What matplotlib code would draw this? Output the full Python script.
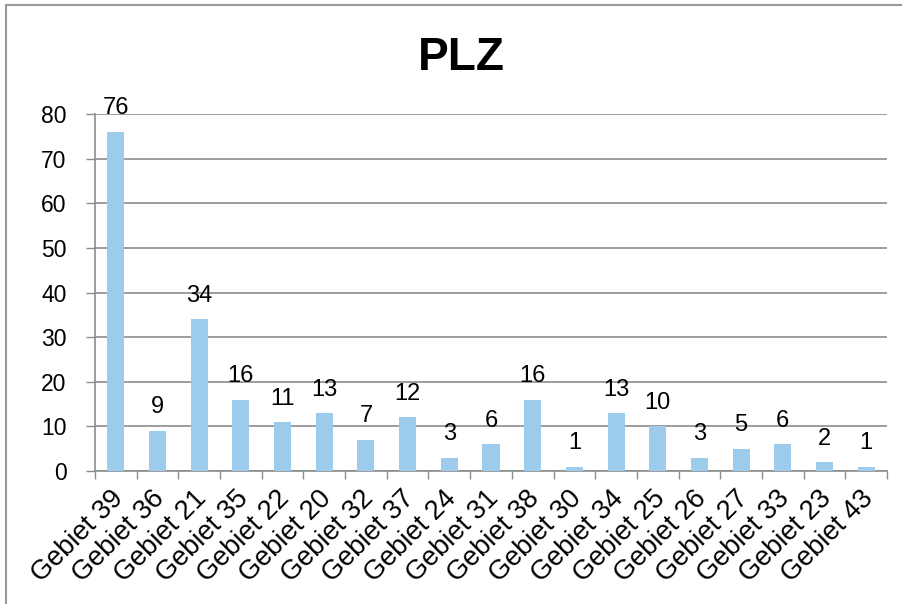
import matplotlib
matplotlib.use("Agg")
import matplotlib.pyplot as plt
from matplotlib.patches import Rectangle
from matplotlib.transforms import ScaledTranslation

categories = ["Gebiet 39", "Gebiet 36", "Gebiet 21", "Gebiet 35", "Gebiet 22",
              "Gebiet 20", "Gebiet 32", "Gebiet 37", "Gebiet 24", "Gebiet 31",
              "Gebiet 38", "Gebiet 30", "Gebiet 34", "Gebiet 25", "Gebiet 26",
              "Gebiet 27", "Gebiet 33", "Gebiet 23", "Gebiet 43"]
values = [76, 9, 34, 16, 11, 13, 7, 12, 3, 6, 16, 1, 13, 10, 3, 5, 6, 2, 1]
yticks = [0, 10, 20, 30, 40, 50, 60, 70, 80]
title = "PLZ"

plt.rcParams['font.family'] = ['Liberation Sans', 'DejaVu Sans']

W, H = 903, 604
fig = plt.figure(figsize=(W / 100, H / 100), dpi=100)
ax = fig.add_axes([95 / W, 1 - 471 / H, (887 - 95) / W, (471 - 114) / H])

grid_c = '#8c8c8c'
bar_c = '#9ccbec'
x = list(range(len(categories)))
ax.bar(x, values, width=0.41, color=bar_c, zorder=3)

for xi, v in zip(x, values):
    ax.annotate(str(v), (xi, v), xytext=(0, 12.5), textcoords='offset points',
                ha='center', va='baseline', fontsize=17, color='black', zorder=4)

ax.set_xlim(-0.5, len(categories) - 0.5)
ax.set_ylim(0, 80)
ax.set_yticks(yticks)
ax.set_yticklabels([str(t) for t in yticks], fontsize=16.5)
ax.yaxis.grid(True, color=grid_c, linewidth=1.2, zorder=0)
ax.tick_params(axis='y', length=6.5, width=1.0, color=grid_c, pad=14, direction='out')

ax.set_xticks(x)
ax.set_xticklabels(categories, fontsize=19.5, rotation=45, ha='right', rotation_mode='anchor')
ax.tick_params(axis='x', which='major', length=0, pad=10.5)
ax.set_xticks([i - 0.5 for i in range(len(categories) + 1)], minor=True)
ax.tick_params(axis='x', which='minor', length=6, width=1.0, color=grid_c, direction='out')
shift = ScaledTranslation(-6 / 100, 0, fig.dpi_scale_trans)
for lbl in ax.get_xticklabels():
    lbl.set_transform(lbl.get_transform() + shift)

for s in ['top', 'right']:
    ax.spines[s].set_visible(False)
for s in ['left', 'bottom']:
    ax.spines[s].set_color(grid_c)
    ax.spines[s].set_linewidth(1.2)

fig.text(461 / W, 1 - 69.5 / H, title, fontsize=33, fontweight='bold',
         ha='center', va='baseline')

fig.patches.append(Rectangle((6 / W, -0.1), 1.2, 1 - 5 / H + 0.1,
                             transform=fig.transFigure, fill=False,
                             edgecolor='#9a9a9a', linewidth=1.5))

fig.savefig('out.png', dpi=100, facecolor='white')
